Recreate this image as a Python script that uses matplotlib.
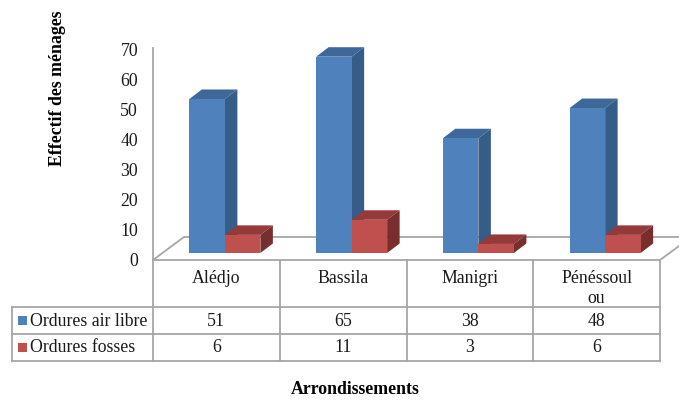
import matplotlib
matplotlib.use("Agg")
import matplotlib.pyplot as plt
from matplotlib.patches import Polygon, Rectangle
from matplotlib.transforms import Affine2D

plt.rcParams['font.family'] = ['Liberation Serif', 'DejaVu Serif']

categories = ["Alédjo", "Bassila", "Manigri", "Pénéssoul\nou"]
air_libre = [51, 65, 38, 48]
fosses = [6, 11, 3, 6]
series_names = ["Ordures air libre", "Ordures fosses"]
y_ticks = [0, 10, 20, 30, 40, 50, 60, 70]

W, H = 679, 401
LEFT, CAT_W = 153, 126.75
BASE, UNIT = 253, 3.02
BAR_W = 35.5 / CAT_W
DEPTH_X = 12.5 / CAT_W
DEPTH_Y = 9.5 / UNIT
GREY = "#a6a6a6"
TEXT = "#1a1a1a"
FS = 12.8

fig = plt.figure(figsize=(W / 100, H / 100), dpi=100)
ax = fig.add_axes([0, 0, 1, 1])
ax.set_xlim(-LEFT / CAT_W, (W - LEFT) / CAT_W)
ax.set_ylim((BASE - H) / UNIT, BASE / UNIT)
ax.axis("off")

# pixel coordinates for the frame, table and labels
px = Affine2D().scale(1, -1).translate(0, H)


def line(xs, ys, color=GREY, lw=1.3, z=1):
    ax.plot(xs, ys, color=color, lw=lw, transform=px, solid_capstyle="projecting", zorder=z, clip_on=False)


def bar3d(x, value, front, top, side):
    x2 = x + BAR_W
    ax.add_patch(Polygon([(x, value), (x + DEPTH_X, value + DEPTH_Y), (x2 + DEPTH_X, value + DEPTH_Y), (x2, value)],
                         fc=top, ec="none", zorder=3))
    ax.add_patch(Polygon([(x2, 0), (x2 + DEPTH_X, DEPTH_Y), (x2 + DEPTH_X, value + DEPTH_Y), (x2, value)],
                         fc=side, ec="none", zorder=3))
    ax.add_patch(Rectangle((x, 0), BAR_W, value, fc=front, ec="none", zorder=3))


# floor and wall
line([153, 153], [48, 260])
line([153, 184, 679], [260, 237, 237])
line([660, 679], [260, 246])

for i in range(len(categories)):
    x = i + 0.5 - 27 / CAT_W
    bar3d(x, air_libre[i], "#4f81bd", "#3f689a", "#365c88")
    bar3d(x + BAR_W, fosses[i], "#c0504d", "#943a38", "#782e2c")

# y tick labels
for v in y_ticks:
    ax.text(138, 261 - v * 3.0, str(v), transform=px, ha="right", va="center", fontsize=FS, color=TEXT)

# data table
cols = [LEFT + CAT_W * i for i in range(5)]
rows = [260, 307, 334, 360.5]
for c in cols:
    line([c, c], [260, 360.5])
line([12, 12], [307, 360.5])
line([153, 660], [260, 260])
for r in rows[1:]:
    line([12, 660], [r, r])

for i, name in enumerate(categories):
    ax.text(cols[i] + CAT_W / 2, 270, name, transform=px, ha="center", va="top", fontsize=FS,
            color=TEXT, linespacing=1.2)
    ax.text(cols[i] + CAT_W / 2, 321, str(air_libre[i]), transform=px, ha="center", va="center",
            fontsize=FS, color=TEXT)
    ax.text(cols[i] + CAT_W / 2, 348, str(fosses[i]), transform=px, ha="center", va="center",
            fontsize=FS, color=TEXT)

for r, name, color in zip([320.5, 347], series_names, ["#4f81bd", "#c0504d"]):
    ax.add_patch(Rectangle((18, r - 4.5), 8.5, 9, fc=color, ec="none", transform=px))
    ax.text(30.5, r + 0.5, name, transform=px, ha="left", va="center", fontsize=FS, color=TEXT)

# axis titles
ax.text(57, 88, "Effectif des ménages", transform=px, rotation=90, ha="center", va="center",
        fontsize=FS, fontweight="bold", color="black")
ax.text(355, 389, "Arrondissements", transform=px, ha="center", va="center",
        fontsize=FS, fontweight="bold", color="black")

fig.savefig("out.png", dpi=100)
